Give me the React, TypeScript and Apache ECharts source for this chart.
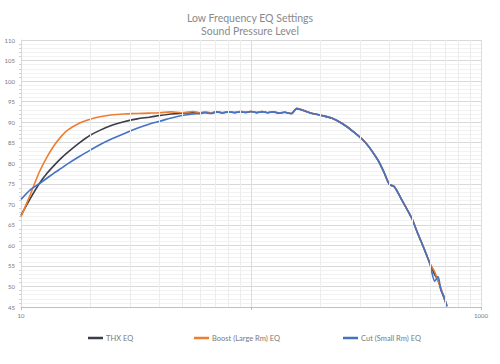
import React, { useEffect, useRef } from "react";
import * as echarts from "echarts";

const titleLines = ["Low Frequency EQ Settings", "Sound Pressure Level"];
const seriesNames = ["THX EQ", "Boost (Large Rm) EQ", "Cut (Small Rm) EQ"];
const seriesColors = ["#3b3e48", "#ed7d31", "#4472c4"];

const freqHz = [
  10, 11, 12, 13, 14, 15, 16, 18, 20, 22,
  25, 28, 32, 36, 40, 45, 50, 56, 60, 63,
  67, 71, 75, 80, 85, 90, 95, 100, 106, 112,
  118, 125, 132, 140, 150, 158, 165, 180, 200, 224,
  250, 280, 315, 355, 380, 400, 420, 450, 500, 530,
  560, 600, 630, 650, 670, 690, 711,
];

const thxDb = [
  67.3, 71.5, 75.0, 77.6, 79.6, 81.3, 82.7, 85.0, 86.8, 88.0,
  89.3, 90.1, 90.8, 91.2, 91.6, 92.0, 92.2, 92.3, 92.1, 92.4,
  92.2, 92.5, 92.3, 92.5, 92.3, 92.6, 92.4, 92.6, 92.3, 92.6,
  92.3, 92.5, 92.2, 92.4, 92.1, 93.3, 93.1, 92.3, 91.7, 91.0,
  89.6, 87.6, 85.0, 80.9, 77.6, 74.8, 74.3, 71.3, 66.6, 63.0,
  59.8, 55.6, 52.8, 51.6, 49.2, 47.2, 45.2,
];

const boostDb = [
  67.0, 72.5, 77.8, 81.6, 84.5, 86.6, 88.1, 89.8, 90.7, 91.3,
  91.8, 92.0, 92.1, 92.2, 92.3, 92.5, 92.3, 92.6, 92.3, 92.5,
  92.3, 92.6, 92.3, 92.5, 92.4, 92.6, 92.4, 92.6, 92.4, 92.6,
  92.3, 92.5, 92.3, 92.4, 92.1, 93.4, 93.1, 92.3, 91.7, 91.0,
  89.6, 87.6, 85.0, 80.9, 77.6, 74.8, 74.3, 71.3, 66.6, 63.0,
  59.8, 55.6, 53.5, 51.4, 49.6, 47.4, 45.2,
];

const cutDb = [
  71.2, 73.6, 75.0, 76.4, 77.7, 78.8, 79.9, 81.7, 83.2, 84.5,
  86.0, 87.2, 88.5, 89.5, 90.2, 91.0, 91.6, 92.0, 92.1, 92.3,
  92.1, 92.5, 92.2, 92.5, 92.3, 92.5, 92.3, 92.6, 92.3, 92.5,
  92.3, 92.5, 92.2, 92.4, 92.1, 93.3, 93.0, 92.3, 91.7, 91.0,
  89.6, 87.6, 85.0, 80.9, 77.6, 74.8, 74.3, 71.3, 66.6, 63.0,
  59.8, 55.4, 51.3, 52.4, 49.0, 47.6, 45.2,
];

const minorFreqLines = [20, 30, 40, 50, 60, 70, 80, 90, 200, 300, 400, 500, 600, 700, 800, 900];
const xLabelsShown = [10, 1000];

const valueSets = [thxDb, boostDb, cutDb];
const legendLefts = [83, 189, 338];

export default function App() {
  const ref = useRef<HTMLDivElement>(null);
  useEffect(() => {
    if (!ref.current) return;
    const chart = echarts.init(ref.current, undefined, { renderer: "svg" });
    const font = "Lato, 'Open Sans', sans-serif";
    const lineSeries = seriesNames.map((name, i) => ({
      name,
      type: "line",
      z: 2 + i,
      data: freqHz.map((f, k) => [f, valueSets[i][k]]),
      showSymbol: false,
      symbol: "none",
      smooth: 0.3,
      lineStyle: { color: seriesColors[i], width: 1.6 },
      itemStyle: { color: seriesColors[i] },
    }));
    chart.setOption({
      animation: false,
      backgroundColor: "#ffffff",
      title: {
        text: titleLines.join("\n"),
        left: "center",
        top: 6,
        textStyle: {
          fontFamily: font,
          fontSize: 10.5,
          fontWeight: "normal",
          color: "#8a8a8a",
          lineHeight: 13,
        },
      },
      legend: seriesNames.map((name, i) => ({
        data: [name],
        left: legendLefts[i],
        top: 329,
        icon: "rect",
        itemWidth: 15,
        itemHeight: 2.5,
        itemGap: 3,
        textStyle: { fontFamily: font, fontSize: 7.5, color: "#7a7a7a", padding: [0, 0, 0, -2] },
        selectedMode: false,
      })),
      grid: { left: 21, right: 19, top: 40, bottom: 57 },
      xAxis: {
        type: "log",
        logBase: 10,
        min: 10,
        max: 1000,
        axisLine: { lineStyle: { color: "#bfbfbf", width: 1 } },
        axisTick: { show: true, length: 3, lineStyle: { color: "#bfbfbf" } },
        axisLabel: {
          fontFamily: font,
          fontSize: 6,
          color: "#777777",
          margin: 5,
          formatter: (v: number) => (xLabelsShown.includes(Math.round(v)) ? String(Math.round(v)) : ""),
        },
        splitLine: { show: true, lineStyle: { color: "#dcdcdc", width: 1 } },
      },
      yAxis: {
        type: "value",
        min: 45,
        max: 110,
        interval: 5,
        axisLine: { show: true, lineStyle: { color: "#d9d9d9" } },
        axisTick: { show: false },
        minorTick: { show: true, splitNumber: 5, length: 2, lineStyle: { color: "#d0d0d0" } },
        minorSplitLine: { show: true, lineStyle: { color: "#f2f2f2", width: 1 } },
        axisLabel: { fontFamily: font, fontSize: 6, color: "#777777", margin: 6 },
        splitLine: { show: true, lineStyle: { color: "#d9d9d9", width: 1 } },
      },
      series: [
        {
          name: "grid-minor",
          type: "line",
          z: 1,
          data: [],
          silent: true,
          markLine: {
            silent: true,
            symbol: "none",
            label: { show: false },
            lineStyle: { color: "#ececec", type: "solid", width: 1 },
            data: minorFreqLines.map((f) => ({ xAxis: f })),
          },
        },
        ...lineSeries,
      ],
    });
    return () => chart.dispose();
  }, []);
  return <div ref={ref} style={{ width: 500, height: 364, position: "absolute", left: 0, top: 0 }} />;
}
